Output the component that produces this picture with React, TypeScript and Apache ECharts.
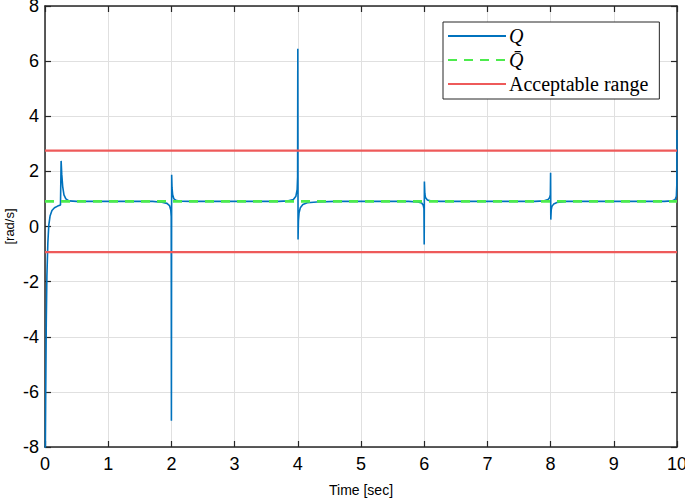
import React, { useEffect, useRef } from "react";
import * as echarts from "echarts";

// Measured Q signal [time (s), rate (rad/s)]
const qStart: number[][] = [
  [0, -10], [0.01, -6.5], [0.02, -3.5], [0.03, -1.8], [0.045, -0.6], [0.06, 0.05],
  [0.08, 0.38], [0.11, 0.58], [0.15, 0.68], [0.2, 0.74], [0.245, 0.78], [0.255, 2.38],
  [0.265, 1.9], [0.28, 1.45], [0.3, 1.15], [0.33, 1.0], [0.38, 0.93], [0.5, 0.91],
];
const qAt2: number[][] = [
  [1.7, 0.91], [1.85, 0.88], [1.93, 0.84], [1.97, 0.76], [1.99, 0.6], [1.997, 0.36],
  [2.0, -7.05], [2.004, 1.88], [2.01, 1.4], [2.02, 1.15], [2.04, 1.0], [2.08, 0.94],
  [2.15, 0.92], [2.3, 0.91],
];
const qAt4: number[][] = [
  [3.7, 0.91], [3.85, 0.93], [3.93, 0.98], [3.97, 1.1], [3.99, 1.35], [3.997, 1.8],
  [4.0, 6.45], [4.004, -0.47], [4.01, 0.2], [4.02, 0.5], [4.04, 0.68], [4.08, 0.8],
  [4.15, 0.86], [4.3, 0.89], [4.6, 0.91],
];
const qAt6: number[][] = [
  [5.75, 0.91], [5.9, 0.89], [5.96, 0.85], [5.985, 0.77], [5.996, 0.65], [6.0, -0.65],
  [6.003, 1.63], [6.01, 1.2], [6.02, 1.05], [6.05, 0.96], [6.1, 0.93], [6.25, 0.91],
];
const qAt8: number[][] = [
  [7.75, 0.91], [7.9, 0.93], [7.96, 0.98], [7.985, 1.05], [7.996, 1.15], [8.0, 1.95],
  [8.003, 0.25], [8.01, 0.6], [8.02, 0.72], [8.05, 0.82], [8.1, 0.87], [8.25, 0.91],
];
const qEnd: number[][] = [
  [9.8, 0.91], [9.92, 0.93], [9.97, 0.98], [9.99, 1.1], [9.997, 1.5], [10, 3.5],
];

const qMean = 0.91;
const rangeUpper = 2.75;
const rangeLower = -0.93;
const timeSpan = [0, 10];

const xTicks = { min: 0, max: 10, interval: 1 };
const yTicks = { min: -8, max: 8, interval: 2 };

const AXIS_COLOR = "#262626";
const SANS = "'Liberation Sans Narrow', 'Liberation Sans', Arial, sans-serif";
const SERIF = "'Liberation Serif', 'DejaVu Serif', serif";

export default function App() {
  const ref = useRef<HTMLDivElement>(null);

  useEffect(() => {
    if (!ref.current) return;
    const chart = echarts.init(ref.current, undefined, { renderer: "svg" });
    const qData = [...qStart, ...qAt2, ...qAt4, ...qAt6, ...qAt8, ...qEnd];

    const axisCommon = {
      type: "value" as const,
      axisLine: { show: true, onZero: false, lineStyle: { color: AXIS_COLOR, width: 1.5 } },
      axisTick: { show: true, inside: true, length: 6, lineStyle: { color: AXIS_COLOR, width: 1.2 } },
    };

    chart.setOption({
      animation: false,
      backgroundColor: "#fff",
      grid: { left: 45, right: 8, top: 6, bottom: 53, containLabel: false, outerBoundsMode: "none" },
      xAxis: [
        {
          ...axisCommon,
          position: "bottom",
          min: xTicks.min,
          max: xTicks.max,
          interval: xTicks.interval,
          name: "Time [sec]",
          nameLocation: "middle",
          nameGap: 36,
          nameTextStyle: { fontFamily: SANS, fontSize: 14, color: "#000" },
          axisLabel: { fontFamily: SANS, fontSize: 18, color: "#000", margin: 8 },
          splitLine: { show: true, lineStyle: { color: "#e0e0e0", width: 1 } },
        },
        {
          ...axisCommon,
          position: "top",
          min: xTicks.min,
          max: xTicks.max,
          interval: xTicks.interval,
          axisLabel: { show: false },
          splitLine: { show: false },
        },
      ],
      yAxis: [
        {
          ...axisCommon,
          position: "left",
          min: yTicks.min,
          max: yTicks.max,
          interval: yTicks.interval,
          name: "[rad/s]",
          nameLocation: "middle",
          nameGap: 29,
          nameMoveOverlap: false,
          nameRotate: 90,
          nameTextStyle: { fontFamily: SANS, fontSize: 13, color: "#000" },
          axisLabel: { fontFamily: SANS, fontSize: 18, color: "#000", margin: 6 },
          splitLine: { show: true, lineStyle: { color: "#e0e0e0", width: 1 } },
        },
        {
          ...axisCommon,
          position: "right",
          min: yTicks.min,
          max: yTicks.max,
          interval: yTicks.interval,
          axisLabel: { show: false },
          splitLine: { show: false },
        },
      ],
      legend: {
        orient: "vertical",
        left: 443,
        top: 22,
        backgroundColor: "#fff",
        borderColor: AXIS_COLOR,
        borderWidth: 1,
        borderRadius: 0,
        padding: [4, 11, 5, 4],
        itemWidth: 58,
        itemHeight: 14,
        itemGap: 4,
        itemStyle: { opacity: 0 },
        data: ["Q", "Q\u0304", "Acceptable range"],
        formatter: (name: string) => (name === "Acceptable range" ? name : `{i|${name}}`),
        textStyle: {
          fontFamily: SERIF,
          fontSize: 20,
          lineHeight: 18,
          color: "#000",
          padding: [0, 0, 0, -2],
          rich: {
            i: { fontFamily: SERIF, fontSize: 20, lineHeight: 18, fontStyle: "italic", color: "#000" },
          },
        },
      },
      series: [
        {
          name: "Q",
          type: "line",
          data: qData,
          symbol: "none",
          lineStyle: { color: "#0072BD", width: 1.6 },
          itemStyle: { color: "#0072BD" },
          z: 2,
        },
        {
          name: "Q\u0304",
          type: "line",
          data: timeSpan.map((t) => [t, qMean]),
          symbol: "none",
          lineStyle: { color: "#4DEB4D", width: 2.6, type: [9, 7] },
          itemStyle: { color: "#4DEB4D" },
          z: 3,
        },
        {
          name: "Acceptable range",
          type: "line",
          data: timeSpan.map((t) => [t, rangeUpper]),
          symbol: "none",
          lineStyle: { color: "#EE5A5A", width: 2.2 },
          itemStyle: { color: "#EE5A5A" },
          z: 4,
        },
        {
          name: "Acceptable range",
          type: "line",
          data: timeSpan.map((t) => [t, rangeLower]),
          symbol: "none",
          lineStyle: { color: "#EE5A5A", width: 2.2 },
          itemStyle: { color: "#EE5A5A" },
          z: 4,
        },
      ],
    });

    return () => chart.dispose();
  }, []);

  return <div ref={ref} style={{ width: 685, height: 500, position: "absolute", left: 0, top: 0 }} />;
}
